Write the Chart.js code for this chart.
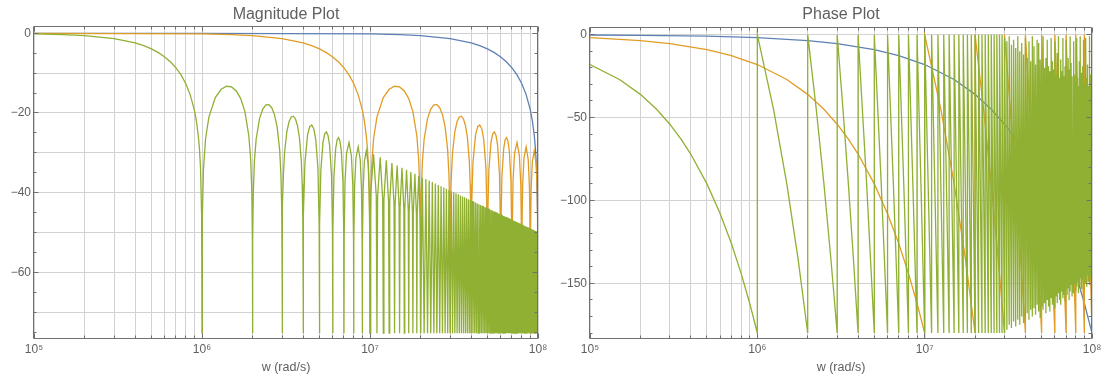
<!DOCTYPE html>
<html><head><meta charset="utf-8">
<script src="https://cdn.jsdelivr.net/npm/chart.js@4"></script>
<style>
html,body{margin:0;padding:0;background:#fff;}
#wrap{position:relative;width:1109px;height:378px;overflow:hidden;}
canvas{position:absolute;top:0;}
</style></head><body>
<div id="wrap">
<canvas id="mag" width="554" height="378" style="left:0"></canvas>
<canvas id="phase" width="555" height="378" style="left:554px"></canvas>
</div>
<script>
// ---------------- DATA ----------------
const chartTitles = ['Magnitude Plot', 'Phase Plot'];
const xAxisTitle = 'w (rad/s)';
const seriesNames = ['series 1', 'series 2', 'series 3'];
// first null of each series (rad/s): each curve has the same shape, one decade apart
const seriesFirstNullW = [1e8, 1e7, 1e6];

const xDecades = [1e5, 1e6, 1e7, 1e8];
const xDecadeLabels = ['10\u2075', '10\u2076', '10\u2077', '10\u2078'];
const xGridMultipliers = [1, 2, 3, 4, 5, 6, 7, 8, 9];
const magGridDb = [0, -10, -20, -30, -40, -50, -60, -70];
const magLabelDb = [0, -20, -40, -60];
const phaseGridDeg = [0, -50, -100, -150];

// magnitude (dB) against frequency in units of the first null
const NULL_FLOOR_DB = -75.3;
const magMainU  = [0.001, 0.01, 0.1, 0.15, 0.2, 0.3, 0.4, 0.45, 0.5, 0.55, 0.6, 0.65, 0.7, 0.75, 0.8, 0.85, 0.9, 0.925, 0.95, 0.965, 0.98, 0.995];
const magMainDb = [0, 0, -0.14, -0.32, -0.58, -1.33, -2.42, -3.12, -3.92, -4.86, -5.94, -7.20, -8.69, -10.45, -12.62, -15.39, -19.23, -21.90, -25.61, -28.83, -33.81, -45.98];
const lobeNullU = [1,2,3,4,5,6,7,8,9,10,11,12,13,14,15,16,17,18,19,20,21,22,23,24,25,26,27,28,29,30,31,32,33,34,35,36,37,38,39,40,41,42,43,44,45,46,47,48,49,50,51,52,53,54,55,56,57,58,59,60,61,62,63,64,65,66,67,68,69,70,71,72,73,74,75,76,77,78,79,80,81,82,83,84,85,86,87,88,89,90,91,92,93,94,95,96,97,98,99,100];
const sideLobeU = [
  1.005,1.02,1.05,1.1,1.2,1.3,1.4,1.5,1.6,1.7,1.8,1.9,1.95,1.98,1.995,
  2.005,2.02,2.05,2.1,2.2,2.3,2.4,2.5,2.6,2.7,2.8,2.9,2.95,2.98,2.995,
  3.005,3.02,3.05,3.1,3.2,3.3,3.4,3.5,3.6,3.7,3.8,3.9,3.95,3.98,3.995,
  4.02,4.1,4.25,4.375,4.5,4.625,4.75,4.9,4.98,
  5.02,5.1,5.25,5.375,5.5,5.625,5.75,5.9,5.98,
  6.02,6.1,6.25,6.375,6.5,6.625,6.75,6.9,6.98,
  7.02,7.1,7.25,7.5,7.75,7.9,7.98,
  8.02,8.1,8.25,8.5,8.75,8.9,8.98,
  9.02,9.1,9.25,9.5,9.75,9.9,9.98,
  10.1,10.5,10.9, 11.1,11.5,11.9, 12.1,12.5,12.9, 13.1,13.5,13.9, 14.1,14.5,14.9,
  15.1,15.5,15.9, 16.1,16.5,16.9, 17.1,17.5,17.9, 18.1,18.5,18.9, 19.1,19.5,19.9];
const sideLobeDb = [
  -46.07,-34.16,-26.48,-20.97,-16.14,-14.06,-13.30,-13.47,-14.46,-16.39,-19.66,-25.72,-31.85,-39.92,-52.02,
  -52.07,-40.09,-32.29,-26.59,-21.41,-19.02,-17.98,-17.90,-18.68,-20.41,-23.50,-29.39,-35.45,-43.47,-55.55,
  -55.58,-43.58,-35.74,-29.97,-24.66,-22.15,-21.01,-20.82,-21.51,-23.15,-26.16,-31.96,-37.99,-45.98,-58.05,
  -46.07,-32.40,-25.52,-23.45,-23.01,-23.93,-26.49,-33.95,-47.93,
  -48.00,-34.29,-27.36,-25.24,-24.75,-25.63,-28.15,-35.56,-49.52,
  -49.58,-35.85,-28.87,-26.72,-26.20,-27.06,-29.54,-36.92,-50.86,
  -50.91,-37.17,-30.16,-27.44,-30.74,-38.10,-52.02,
  -52.07,-38.31,-31.28,-28.53,-31.79,-39.13,-53.05,
  -53.09,-39.32,-32.28,-29.50,-32.73,-40.06,-53.97,
  -40.23,-30.37,-40.89, -41.05,-31.16,-41.65, -41.80,-31.88,-42.36, -42.49,-32.55,-43.00, -43.13,-33.17,-43.61,
  -43.72,-33.75,-44.17, -44.28,-34.29,-44.70, -44.80,-34.80,-45.20, -45.30,-35.29,-45.67, -45.76,-35.74,-46.12];
const farLobePeakU = [20.5,21.5,22.5,23.5,24.5,25.5,26.5,27.5,28.5,29.5,30.5,31.5,32.5,33.5,34.5,35.5,36.5,37.5,38.5,39.5,40.5,41.5,42.5,43.5,44.5,45.5,46.5,47.5,48.5,49.5,50.5,51.5,52.5,53.5,54.5,55.5,56.5,57.5,58.5,59.5,60.5,61.5,62.5,63.5,64.5,65.5,66.5,67.5,68.5,69.5,70.5,71.5,72.5,73.5,74.5,75.5,76.5,77.5,78.5,79.5,80.5,81.5,82.5,83.5,84.5,85.5,86.5,87.5,88.5,89.5,90.5,91.5,92.5,93.5,94.5,95.5,96.5,97.5,98.5,99.5];
const farLobePeakDb = [
  -36.18,-36.59,-36.99,-37.36,-37.73,-38.07,-38.41,-38.73,-39.04,-39.34,
  -39.63,-39.91,-40.18,-40.44,-40.70,-40.95,-41.19,-41.42,-41.65,-41.88,
  -42.09,-42.30,-42.51,-42.71,-42.91,-43.10,-43.29,-43.48,-43.66,-43.84,
  -44.01,-44.18,-44.35,-44.51,-44.67,-44.83,-44.98,-45.14,-45.29,-45.43,
  -45.58,-45.72,-45.86,-46.00,-46.13,-46.27,-46.40,-46.53,-46.66,-46.78,
  -46.91,-47.03,-47.15,-47.27,-47.39,-47.50,-47.62,-47.73,-47.84,-47.95,
  -48.06,-48.17,-48.27,-48.38,-48.48,-48.58,-48.68,-48.78,-48.88,-48.98,
  -49.08,-49.17,-49.27,-49.36,-49.45,-49.54,-49.63,-49.72,-49.81,-49.90];

// phase (degrees) against frequency in units of the first null
const phaseMainU   = [0.001, 0.002, 0.005, 0.01, 0.02, 0.03, 0.05, 0.07, 0.1, 0.15, 0.2, 0.25, 0.3, 0.35, 0.4, 0.5, 0.6, 0.7, 0.8, 0.9, 1];
const phaseMainDeg = [-0.18, -0.36, -0.9, -1.8, -3.6, -5.4, -9, -12.6, -18, -27, -36, -45, -54, -63, -72, -90, -108, -126, -144, -162, -180];
const toothMidU   = [1.25,1.5,1.75, 2.25,2.5,2.75, 3.25,3.5,3.75, 4.5, 5.5, 6.5, 7.5, 8.5, 9.5];
const toothMidDeg = [-45,-90,-135, -45,-90,-135, -45,-90,-135, -90, -90, -90, -90, -90, -90];
// top / bottom of each wrapped phase tooth k = 1..99 (as sampled in the picture)
const toothTopDeg = [
  0,0,0,0,0,0,0,0,0,0, 0,0,0,0,0,0,0,0,0,0, 0,0,0,0,0,0,0,0,0,
  -2,-4,-1,-6,-3,-8,-1,-10,-5,-12,
  -2,-14,-4,-16,-1,-7,-18,-3,-5,-15,
  -17,-1,-20,-14,-3,-19,-22,-2,-16,-21,
  -4,-24,-11,-1,-26,-15,-22,-2,-25,-19,
  -3,-27,-14,-21,-1,-17,-25,-30,-4,-24,
  -29,-2,-26,-31,-16,-1,-23,-32,-19,-3,
  -30,-22,-2,-26,-18,-31,-1,-34,-24,-30];
const toothBottomDeg = [
  -180,-180,-180,-180,-180,-180,-180,-180,-180,-180, -180,-180,-180,-180,-180,-180,-180,-180,-180,-180, -180,-180,-180,-180,-180,-180,-180,-180,-180,
  -178,-175,-177,-173,-176,-172,-175,-170,-174,-171,
  -168,-172,-166,-170,-165,-169,-163,-167,-171,-164,
  -166,-162,-168,-160,-164,-167,-159,-163,-161,-165,
  -158,-162,-156,-160,-163,-155,-159,-157,-161,-154,
  -157,-153,-160,-155,-151,-158,-154,-156,-150,-155,
  -152,-149,-156,-151,-147,-153,-150,-148,-154,-146,
  -150,-147,-152,-145,-149,-144,-151,-146,-143,-148];

// ---------------- STYLE ----------------
const COLORS = ['#5E81B5', '#E19C24', '#8FB032'];
const FONT = '"Liberation Sans", Arial, sans-serif';
const TEXT_COLOR = '#5f5f5f';
const GRID_COLOR = '#d2d2d2';
const FRAME_COLOR = '#707070';

// ---------------- BUILD ----------------
const magNorm = [];
magMainU.forEach((u, i) => magNorm.push({u, v: magMainDb[i]}));
sideLobeU.forEach((u, i) => magNorm.push({u, v: sideLobeDb[i]}));
farLobePeakU.forEach((u, i) => magNorm.push({u, v: farLobePeakDb[i]}));
lobeNullU.forEach(u => magNorm.push({u, v: NULL_FLOOR_DB}));
magNorm.sort((a, b) => a.u - b.u);

const phaseNorm = [];
phaseMainU.forEach((u, i) => phaseNorm.push({u, v: phaseMainDeg[i]}));
for (let i = 0; i < lobeNullU.length - 1; i++) {
  const a = lobeNullU[i], b = lobeNullU[i + 1];
  phaseNorm.push({u: a, v: toothTopDeg[i]});
  toothMidU.forEach((u, j) => { if (u > a && u < b) phaseNorm.push({u, v: toothMidDeg[j]}); });
  phaseNorm.push({u: b, v: toothBottomDeg[i]});
}

function toSeries(norm, w0) {
  const lo = xDecades[0] * (1 - 1e-9), hi = xDecades[xDecades.length - 1] * (1 + 1e-9);
  const out = norm.filter(p => p.u * w0 >= lo && p.u * w0 <= hi).map(p => ({x: p.u * w0, y: p.v}));
  while (out.length > 1 && out[out.length - 1].x === out[out.length - 2].x) out.pop();
  return out;
}

const xGridValues = [];
xDecades.forEach((d, i) => {
  if (i === xDecades.length - 1) { xGridValues.push(d); return; }
  xGridMultipliers.forEach(m => xGridValues.push(m * d));
});

function datasets(norm) {
  return seriesNames.map((name, i) => ({
    label: name,
    data: toSeries(norm, seriesFirstNullW[i]),
    xAxisID: 'x', yAxisID: 'y',
    borderColor: COLORS[i],
    backgroundColor: COLORS[i],
    borderWidth: 1.3,
    pointRadius: 0,
    tension: 0,
    fill: false,
    order: 2 - i
  }));
}

const frameTicks = {
  id: 'frameTicks',
  afterDraw(chart, args, o) {
    const {ctx, chartArea: a} = chart;
    const xs = chart.scales.x, ys = chart.scales.y;
    const L = Math.round(a.left) - 0.5, R = Math.round(a.right) - 0.5;
    const T = Math.round(a.top) - 0.5, B = Math.round(a.bottom) - 0.5;
    ctx.save();
    ctx.strokeStyle = FRAME_COLOR;
    ctx.lineWidth = 1;
    ctx.beginPath();
    ctx.rect(L, T, R - L, B - T);
    xGridValues.forEach(v => {
      const px = Math.round(xs.getPixelForValue(v) - 0.5) + 0.5;
      const len = xDecades.includes(v) ? 5 : 3;
      ctx.moveTo(px, B); ctx.lineTo(px, B - len);
      ctx.moveTo(px, T); ctx.lineTo(px, T + len);
    });
    o.yTicks.forEach(v => {
      const py = Math.round(ys.getPixelForValue(v) - 0.5) + 0.5;
      const len = o.yMajor.includes(v) ? 5 : 3;
      ctx.moveTo(L, py); ctx.lineTo(L + len, py);
      ctx.moveTo(R, py); ctx.lineTo(R - len, py);
    });
    ctx.stroke();
    ctx.restore();
  }
};

function makeChart(id, title, norm, yMin, yMax, yGrid, yLabelled, yTickMarks, yMajor, yWidth, padRight, topHeight, titlePad) {
  return new Chart(document.getElementById(id), {
    type: 'line',
    data: {datasets: datasets(norm)},
    plugins: [frameTicks],
    options: {
      responsive: false,
      animation: false,
      devicePixelRatio: 1,
      layout: {padding: {left: 0, right: padRight, top: 0, bottom: 0}},
      plugins: {
        legend: {display: false},
        tooltip: {enabled: false},
        title: {display: false},
        frameTicks: {yTicks: yTickMarks, yMajor: yMajor}
      },
      scales: {
        x: {
          type: 'logarithmic',
          min: xDecades[0], max: xDecades[xDecades.length - 1],
          afterBuildTicks: s => { s.ticks = xGridValues.map(v => ({value: v})); },
          afterFit: s => { s.height = 39; },
          ticks: {autoSkip: false, maxRotation: 0, minRotation: 0, padding: 3, color: TEXT_COLOR,
                  font: {family: FONT, size: 12},
                  callback: v => { const i = xDecades.indexOf(v); return i >= 0 ? xDecadeLabels[i] : ''; }},
          grid: {color: GRID_COLOR, drawTicks: false, lineWidth: 1},
          border: {display: false},
          title: {display: true, text: xAxisTitle, color: TEXT_COLOR,
                  font: {family: FONT, size: 12.5}, padding: {top: 0, bottom: 3}}
        },
        titleAxis: {
          axis: 'x', type: 'linear', position: 'top', min: 0, max: 1,
          grid: {display: false, drawTicks: false},
          border: {display: false},
          ticks: {display: false},
          afterFit: s => { s.height = topHeight; },
          title: {display: true, text: title, color: TEXT_COLOR,
                  font: {family: FONT, size: 16, weight: 'normal'}, padding: titlePad}
        },
        y: {
          type: 'linear', min: yMin, max: yMax,
          afterBuildTicks: s => { s.ticks = yGrid.map(v => ({value: v})); },
          afterFit: s => { s.width = yWidth; },
          ticks: {autoSkip: false, padding: 3, color: TEXT_COLOR, font: {family: FONT, size: 12},
                  callback: v => yLabelled.includes(v) ? String(v).replace('-', '\u2212') : ''},
          grid: {color: GRID_COLOR, drawTicks: false, lineWidth: 1},
          border: {display: false}
        }
      }
    }
  });
}

const magTickMarks = [];
for (let v = 0; v >= -75; v -= 5) magTickMarks.push(v);
const phaseTickMarks = [];
for (let v = 0; v >= -180; v -= 10) phaseTickMarks.push(v);

makeChart('mag', chartTitles[0], magNorm, -76.75, 1.58, magGridDb, magLabelDb, magTickMarks, magLabelDb, 34, 16, 27, {top: 5, bottom: 0});
makeChart('phase', chartTitles[1], phaseNorm, -183.6, 4.04, phaseGridDeg, phaseGridDeg, phaseTickMarks, phaseGridDeg, 36, 17, 28, {top: 5, bottom: 0});
</script>
</body></html>
